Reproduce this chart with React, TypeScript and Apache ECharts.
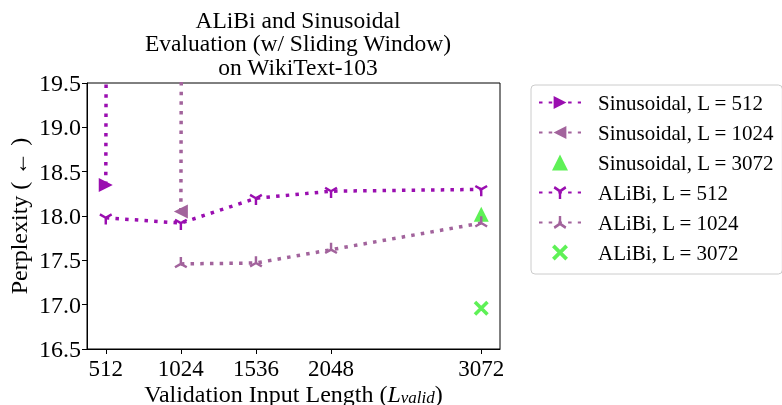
import React, { useEffect, useRef } from "react";
import * as echarts from "echarts";

const xTicks = [512, 1024, 1536, 2048, 3072];

const sin512X = [512, 1024];
const sin512Y = [18.35, 300];
const sin1024X = [1024, 1536];
const sin1024Y = [18.05, 300];
const sin3072X = [3072];
const sin3072Y = [18.02];
const alibi512X = [512, 1024, 1536, 2048, 3072];
const alibi512Y = [17.98, 17.92, 18.2, 18.28, 18.3];
const alibi1024X = [1024, 1536, 2048, 3072];
const alibi1024Y = [17.46, 17.47, 17.62, 17.92];
const alibi3072X = [3072];
const alibi3072Y = [16.96];

const seriesNames = [
  "Sinusoidal, L = 512",
  "Sinusoidal, L = 1024",
  "Sinusoidal, L = 3072",
  "ALiBi, L = 512",
  "ALiBi, L = 1024",
  "ALiBi, L = 3072",
];

const MAGENTA = "#9a0eb0";
const MAUVE = "#a2639c";
const GREEN = "#36ee2c";
const FONT = "'Liberation Serif', 'Times New Roman', serif";

const TRI_DOWN =
  "path://M-1.8,0L1.8,0L1.8,10L-1.8,10Z" +
  "M0.9,-1.559L-0.9,1.559L-9.56,-3.441L-7.76,-6.559Z" +
  "M0.9,1.559L-0.9,-1.559L7.76,-6.559L9.56,-3.441Z";
const TRI_UP =
  "path://M1.8,0L-1.8,0L-1.8,-10L1.8,-10Z" +
  "M-0.9,1.559L0.9,-1.559L9.56,3.441L7.76,6.559Z" +
  "M-0.9,-1.559L0.9,1.559L-7.76,6.559L-9.56,3.441Z";
const TRI = "path://M0,-10L10,10L-10,10Z";
const CROSS =
  "path://M-6,-4L4,6L6,4L-4,-6Z" + "M-4,6L6,-4L4,-6L-6,4Z";

const zip = (xs: number[], ys: number[]) => xs.map((x, i) => [x, ys[i]]);

const dotted = (color: string) => ({
  color,
  width: 3.5,
  type: [3.5, 6.2] as any,
  cap: "butt" as const,
});

export default function App() {
  const ref = useRef<HTMLDivElement>(null);
  useEffect(() => {
    if (!ref.current) return;
    const chart = echarts.init(ref.current, null, { renderer: "svg" });
    chart.setOption({
      animation: false,
      textStyle: { fontFamily: FONT, color: "#000" },
      title: {
        text: "ALiBi and Sinusoidal\nEvaluation (w/ Sliding Window)\non WikiText-103",
        left: 293,
        top: 3,
        textAlign: "center",
        textStyle: {
          fontFamily: FONT,
          fontSize: 23.5,
          lineHeight: 23.5,
          fontWeight: "normal",
          color: "#000",
        },
      },
      grid: {
        left: 87,
        right: 282,
        top: 83,
        bottom: 56,
        show: true,
        borderColor: "#000",
        borderWidth: 1,
        backgroundColor: "transparent",
        outerBoundsMode: "none",
        containLabel: false,
      },
      legend: {
        orient: "vertical",
        left: 531,
        top: 85,
        padding: [7, 8, 11, 7],
        itemGap: 9,
        itemWidth: 42,
        itemHeight: 16,
        borderColor: "#cccccc",
        borderWidth: 1,
        borderRadius: 4,
        data: seriesNames,
        textStyle: {
          fontFamily: FONT,
          fontSize: 21,
          lineHeight: 20,
          color: "#000",
          padding: [0, 0, 0, 12],
        },
      },
      xAxis: {
        type: "value",
        min: 384,
        max: 3200,
        name: "Validation Input Length ({i|L}{s|valid})",
        nameLocation: "middle",
        nameGap: 32,
        nameMoveOverlap: false,
        nameTextStyle: {
          fontFamily: FONT,
          fontSize: 24,
          color: "#000",
          rich: {
            i: { fontFamily: FONT, fontSize: 24, fontStyle: "italic" },
            s: {
              fontFamily: FONT,
              fontSize: 17,
              fontStyle: "italic",
              padding: [8, 0, 0, 0],
            },
          },
        },
        axisLine: { show: true, lineStyle: { color: "#000", width: 1 } },
        axisTick: {
          show: true,
          customValues: xTicks,
          length: 5,
          lineStyle: { color: "#000" },
        },
        axisLabel: {
          customValues: xTicks,
          fontFamily: FONT,
          fontSize: 23,
          lineHeight: 19,
          color: "#000",
          margin: 10,
          formatter: (v: number) => String(v),
        },
        splitLine: { show: false },
      },
      yAxis: {
        type: "value",
        min: 16.5,
        max: 19.5,
        interval: 0.5,
        name: "Perplexity ( \u2190 )",
        nameLocation: "middle",
        nameGap: 56,
        nameMoveOverlap: false,
        nameTextStyle: { fontFamily: FONT, fontSize: 24, color: "#000" },
        axisLine: { show: true, lineStyle: { color: "#000", width: 1 } },
        axisTick: { show: true, length: 5, lineStyle: { color: "#000" } },
        axisLabel: {
          fontFamily: FONT,
          fontSize: 24,
          color: "#000",
          margin: 6,
          formatter: (v: number) => v.toFixed(1),
        },
        splitLine: { show: false },
      },
      series: [
        {
          name: seriesNames[0],
          type: "line",
          data: zip(sin512X, sin512Y),
          symbol: "triangle",
          symbolRotate: -90,
          symbolSize: 14,
          itemStyle: { color: MAGENTA },
          lineStyle: dotted(MAGENTA),
        },
        {
          name: seriesNames[1],
          type: "line",
          data: zip(sin1024X, sin1024Y),
          symbol: "triangle",
          symbolRotate: 90,
          symbolSize: 14,
          itemStyle: { color: MAUVE },
          lineStyle: dotted(MAUVE),
        },
        {
          name: seriesNames[2],
          type: "scatter",
          data: zip(sin3072X, sin3072Y),
          symbol: TRI,
          symbolSize: 15,
          symbolKeepAspect: true,
          itemStyle: { color: GREEN },
        },
        {
          name: seriesNames[3],
          type: "line",
          data: zip(alibi512X, alibi512Y),
          symbol: TRI_DOWN,
          symbolSize: 13,
          symbolKeepAspect: true,
          symbolOffset: [0, 1.2],
          itemStyle: { color: MAGENTA },
          lineStyle: dotted(MAGENTA),
        },
        {
          name: seriesNames[4],
          type: "line",
          data: zip(alibi1024X, alibi1024Y),
          symbol: TRI_UP,
          symbolSize: 13,
          symbolKeepAspect: true,
          symbolOffset: [0, -1.2],
          itemStyle: { color: MAUVE },
          lineStyle: dotted(MAUVE),
        },
        {
          name: seriesNames[5],
          type: "scatter",
          data: zip(alibi3072X, alibi3072Y),
          symbol: CROSS,
          symbolSize: 15,
          symbolKeepAspect: true,
          itemStyle: { color: GREEN },
        },
      ],
    });
    return () => chart.dispose();
  }, []);
  return (
    <div
      ref={ref}
      style={{ position: "fixed", left: 0, top: 0, width: 782, height: 405 }}
    />
  );
}
